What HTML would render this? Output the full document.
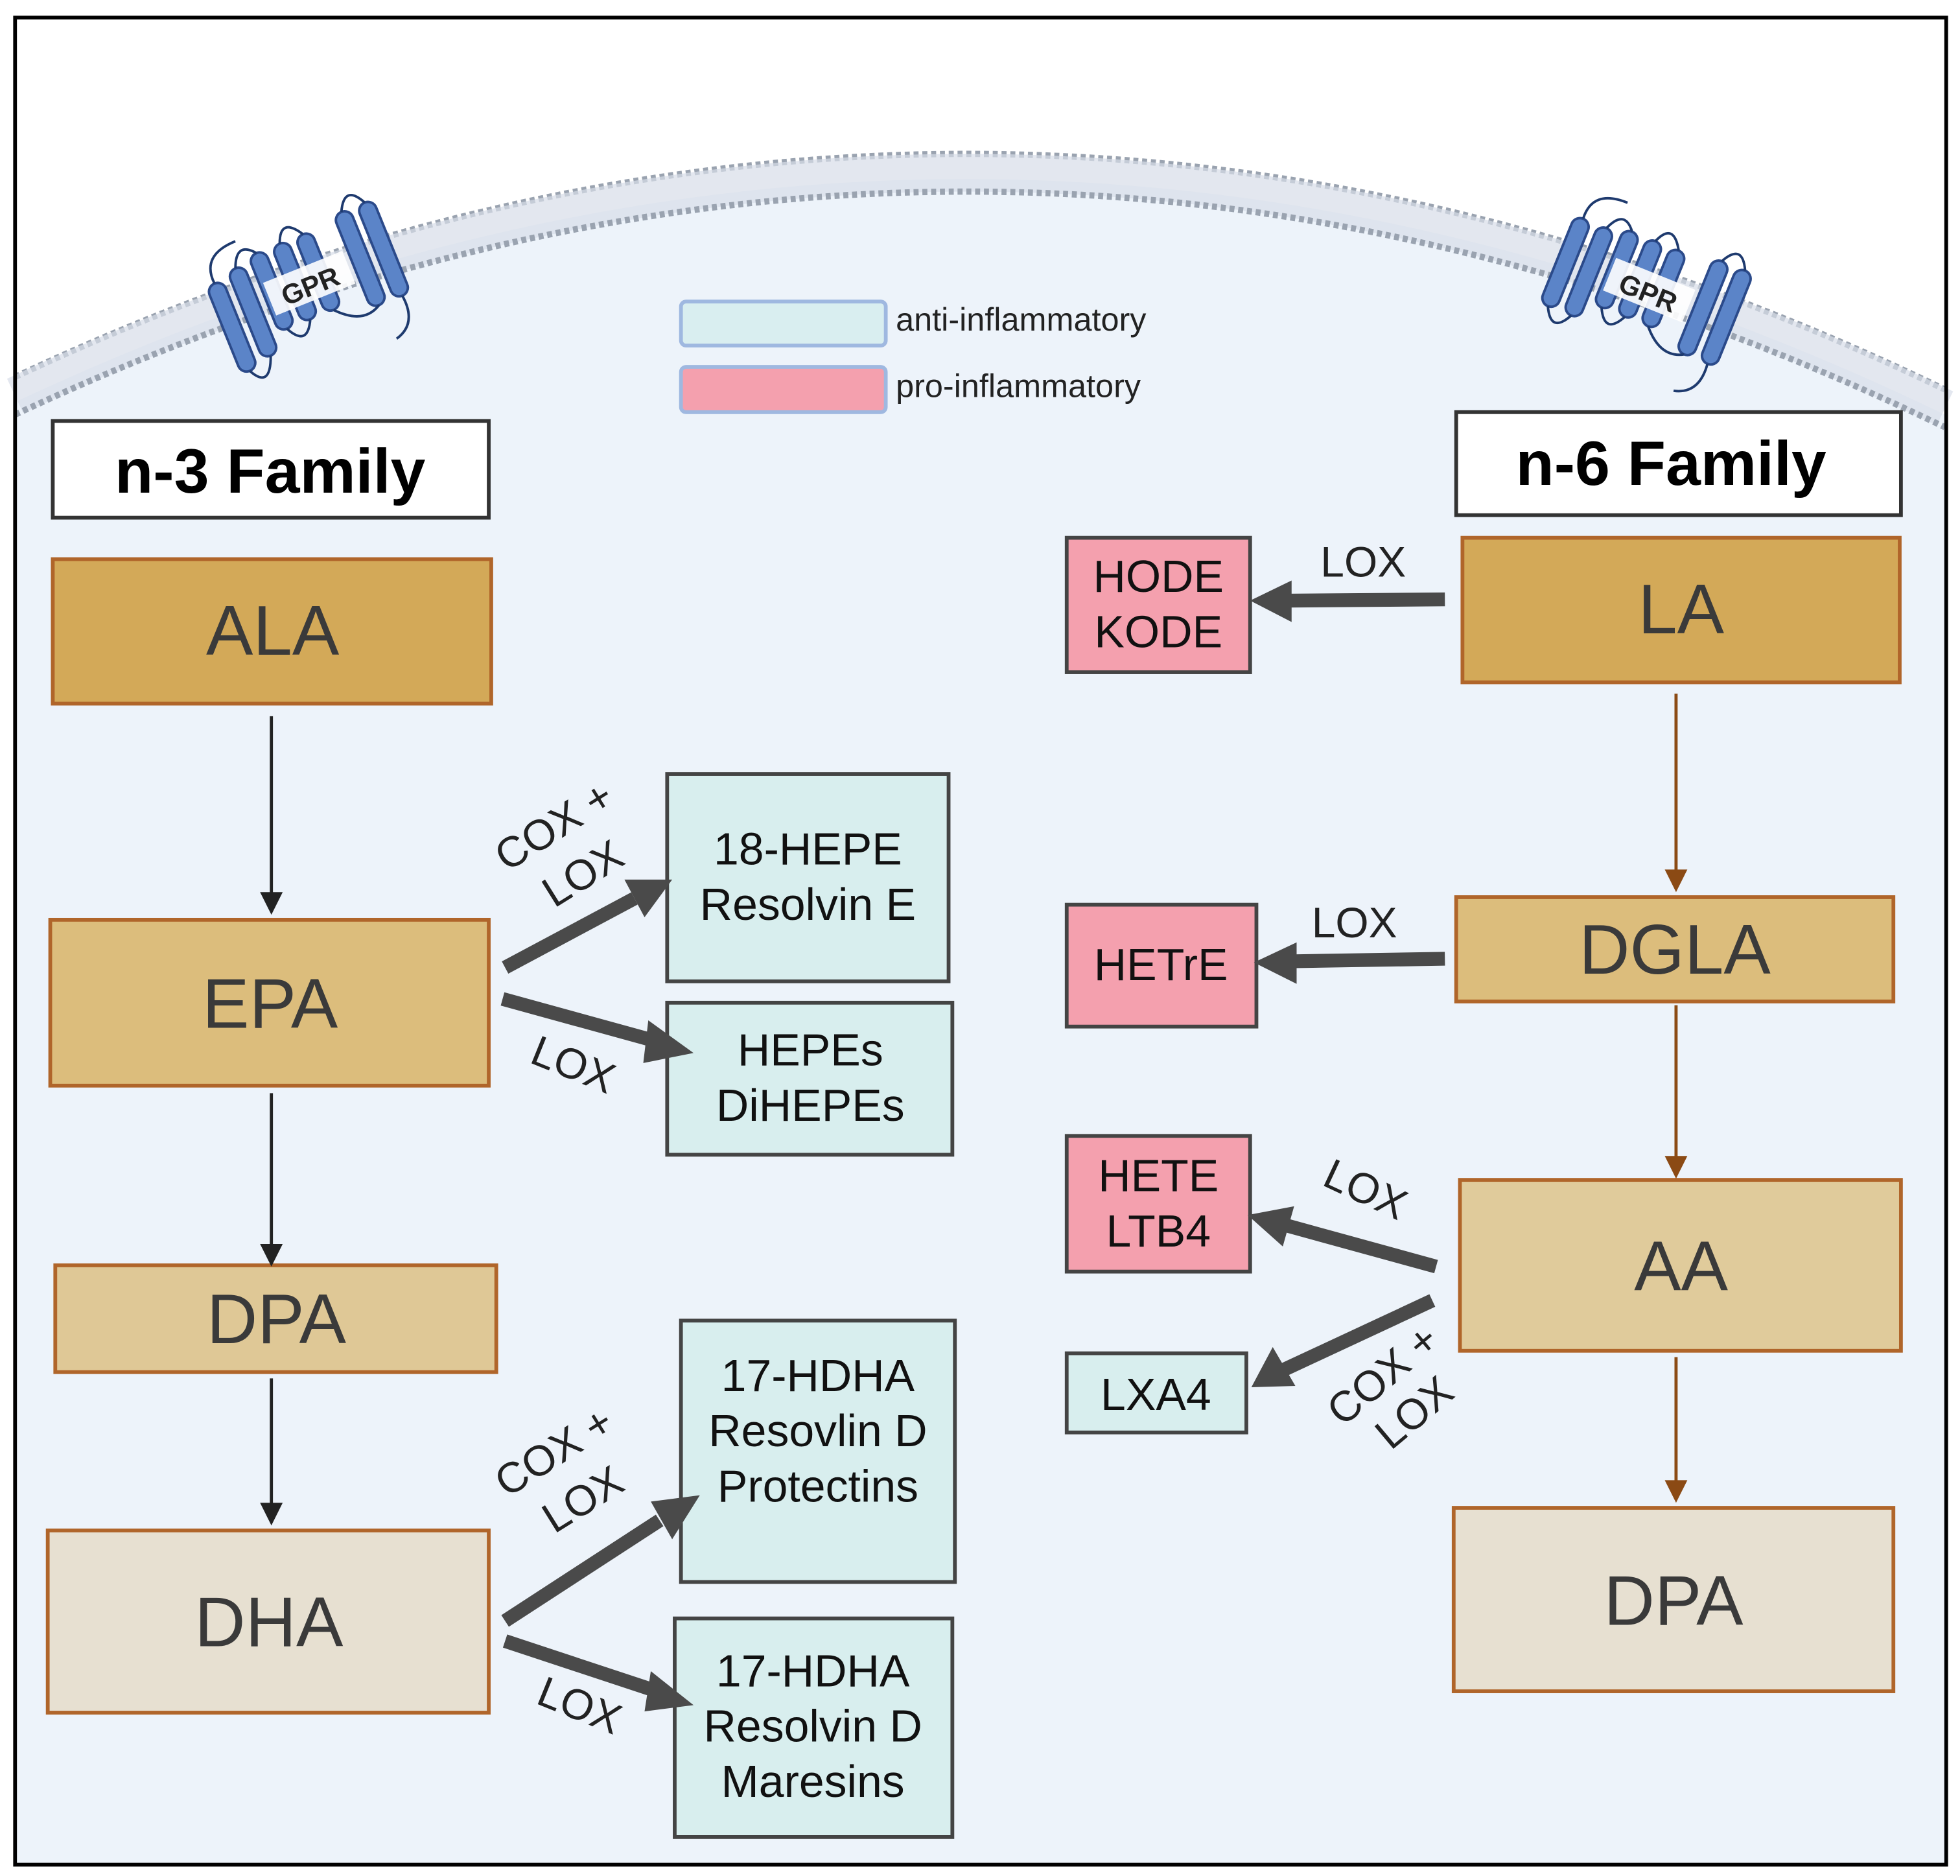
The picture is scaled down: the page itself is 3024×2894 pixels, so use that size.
<!DOCTYPE html>
<html><head><meta charset="utf-8"><style>
html,body{margin:0;padding:0;background:#fff}
svg{display:block}
text{font-family:"Liberation Sans",sans-serif}
</style></head><body>
<svg width="3024" height="2894" viewBox="0 0 1560 1493" preserveAspectRatio="none" xmlns="http://www.w3.org/2000/svg">
<defs>
<marker id="ab" markerWidth="8" markerHeight="8" refX="7" refY="4" orient="auto" markerUnits="userSpaceOnUse"><path d="M0,0 L0,0" /></marker>
</defs>
<rect x="0" y="0" width="1560" height="1493" fill="#fff"/>
<!-- cell interior -->
<path d="M12,320 Q780,-40 1548,330 L1548,1484 L12,1484 Z" fill="#edf3fa"/>
<!-- membrane -->
<path d="M12,300 Q780,-60 1548,310" fill="none" stroke="#9aa3b0" stroke-width="5" stroke-dasharray="4 3"/>
<path d="M12,300 Q780,-60 1548,310" fill="none" stroke="#d7dde8" stroke-width="30" transform="translate(0,15)" opacity="0.7"/>
<path d="M12,330 Q780,-30 1548,340" fill="none" stroke="#9aa3b0" stroke-width="5" stroke-dasharray="4 3"/>
<!-- outer border -->
<rect x="12" y="14" width="1537" height="1470" fill="none" stroke="#000" stroke-width="3"/>

<!-- GPR left -->
<g transform="translate(245,228) rotate(-22)">
  <g fill="#5b84c8" stroke="#2b4a8a" stroke-width="2">
    <rect x="-75" y="-30" width="14" height="75" rx="7"/>
    <rect x="-55" y="-35" width="14" height="75" rx="7"/>
    <rect x="-35" y="-40" width="14" height="65" rx="7"/>
    <rect x="-15" y="-40" width="14" height="65" rx="7"/>
    <rect x="5" y="-40" width="14" height="65" rx="7"/>
    <rect x="40" y="-45" width="14" height="80" rx="7"/>
    <rect x="60" y="-45" width="14" height="80" rx="7"/>
  </g>
  <g fill="none" stroke="#1e3a6e" stroke-width="2">
    <path d="M-68,-30 Q-70,-55 -40,-55"/><path d="M-48,-35 Q-40,-55 -28,-40"/><path d="M-8,-40 Q0,-60 12,-40"/>
    <path d="M47,-45 Q57,-65 67,-45"/><path d="M-68,45 Q-58,65 -48,40"/><path d="M-28,25 Q-18,45 -8,25"/>
    <path d="M12,25 Q30,45 47,35"/><path d="M67,35 Q70,60 50,65"/>
  </g>
  <rect x="-32" y="-16" width="68" height="28" fill="#fff" opacity="0.9"/>
  <text x="2" y="8" text-anchor="middle" font-size="22" font-weight="bold" fill="#222">GPR</text>
</g>
<!-- GPR right -->
<g transform="translate(1310,232) rotate(22)">
  <g fill="#5b84c8" stroke="#2b4a8a" stroke-width="2">
    <rect x="-75" y="-35" width="14" height="75" rx="7"/>
    <rect x="-55" y="-35" width="14" height="75" rx="7"/>
    <rect x="-35" y="-40" width="14" height="65" rx="7"/>
    <rect x="-15" y="-40" width="14" height="65" rx="7"/>
    <rect x="5" y="-40" width="14" height="65" rx="7"/>
    <rect x="40" y="-45" width="14" height="80" rx="7"/>
    <rect x="60" y="-45" width="14" height="80" rx="7"/>
  </g>
  <g fill="none" stroke="#1e3a6e" stroke-width="2">
    <path d="M-68,-35 Q-70,-60 -40,-60"/><path d="M-48,-35 Q-40,-55 -28,-40"/><path d="M-8,-40 Q0,-60 12,-40"/>
    <path d="M47,-45 Q57,-65 67,-45"/><path d="M-68,40 Q-58,60 -48,40"/><path d="M-28,25 Q-18,45 -8,25"/>
    <path d="M12,25 Q30,45 47,35"/><path d="M67,35 Q70,60 50,65"/>
  </g>
  <rect x="-32" y="-16" width="68" height="28" fill="#fff" opacity="0.9"/>
  <text x="2" y="8" text-anchor="middle" font-size="22" font-weight="bold" fill="#222">GPR</text>
</g>

<!-- legend -->
<rect x="542" y="240" width="163" height="35" rx="4" fill="#d9eef0" stroke="#9fb8e0" stroke-width="3"/>
<rect x="542" y="292" width="163" height="36" rx="4" fill="#f4a0ae" stroke="#9fb8e0" stroke-width="3"/>
<text x="713" y="263" font-size="26" fill="#222">anti-inflammatory</text>
<text x="713" y="316" font-size="26" fill="#222">pro-inflammatory</text>

<!-- family labels -->
<rect x="42" y="335" width="347" height="77" fill="#fff" stroke="#333" stroke-width="3"/>
<text x="215" y="392" text-anchor="middle" font-size="50" font-weight="bold" fill="#000">n-3 Family</text>
<rect x="1159" y="328" width="354" height="82" fill="#fff" stroke="#333" stroke-width="3"/>
<text x="1330" y="386" text-anchor="middle" font-size="50" font-weight="bold" fill="#000">n-6 Family</text>

<!-- n-3 main boxes -->
<g stroke="#b0652a" stroke-width="3" font-size="56" fill="#3a3a3a">
<rect x="42" y="445" width="349" height="115" fill="#d3a958"/>
<rect x="40" y="732" width="349" height="132" fill="#dcbd7c"/>
<rect x="44" y="1007" width="351" height="85" fill="#dfc896"/>
<rect x="38" y="1218" width="351" height="145" fill="#e7e0d1"/>
<rect x="1164" y="428" width="348" height="115" fill="#d3a958"/>
<rect x="1159" y="714" width="348" height="83" fill="#dcbd7c"/>
<rect x="1162" y="939" width="351" height="136" fill="#e0cb9b"/>
<rect x="1157" y="1200" width="350" height="146" fill="#e7e0d1"/>
</g>
<g font-size="56" fill="#3a3a3a" text-anchor="middle">
<text x="217" y="521">ALA</text>
<text x="215" y="818">EPA</text>
<text x="220" y="1069">DPA</text>
<text x="214" y="1310">DHA</text>
<text x="1338" y="504">LA</text>
<text x="1333" y="775">DGLA</text>
<text x="1338" y="1027">AA</text>
<text x="1332" y="1293">DPA</text>
</g>

<!-- product boxes -->
<g stroke="#444" stroke-width="3">
<rect x="531" y="616" width="224" height="165" fill="#d8eeee"/>
<rect x="531" y="798" width="227" height="121" fill="#d8eeee"/>
<rect x="542" y="1051" width="218" height="208" fill="#d8eeee"/>
<rect x="537" y="1288" width="221" height="174" fill="#d8eeee"/>
<rect x="849" y="428" width="146" height="107" fill="#f4a0ae"/>
<rect x="849" y="720" width="151" height="97" fill="#f4a0ae"/>
<rect x="849" y="904" width="146" height="108" fill="#f4a0ae"/>
<rect x="849" y="1077" width="143" height="63" fill="#d8eeee"/>
</g>
<g font-size="36" fill="#111" text-anchor="middle">
<text x="643" y="688">18-HEPE</text><text x="643" y="732">Resolvin E</text>
<text x="645" y="848">HEPEs</text><text x="645" y="892">DiHEPEs</text>
<text x="651" y="1107">17-HDHA</text><text x="651" y="1151">Resovlin D</text><text x="651" y="1195">Protectins</text>
<text x="647" y="1342">17-HDHA</text><text x="647" y="1386">Resolvin D</text><text x="647" y="1430">Maresins</text>
<text x="922" y="471">HODE</text><text x="922" y="515">KODE</text>
<text x="924" y="780">HETrE</text>
<text x="922" y="948">HETE</text><text x="922" y="992">LTB4</text>
<text x="920" y="1122">LXA4</text>
</g>

<!-- thin arrows -->
<g stroke="#222" stroke-width="2.5">
<line x1="216" y1="570" x2="216" y2="712"/>
<line x1="216" y1="870" x2="216" y2="992"/>
<line x1="216" y1="1097" x2="216" y2="1198"/>
</g>
<g fill="#222">
<path d="M207,710 L225,710 L216,728 Z"/>
<path d="M207,990 L225,990 L216,1008 Z"/>
<path d="M207,1196 L225,1196 L216,1214 Z"/>
</g>
<g stroke="#8b4a14" stroke-width="2.5">
<line x1="1334" y1="552" x2="1334" y2="694"/>
<line x1="1334" y1="800" x2="1334" y2="922"/>
<line x1="1334" y1="1080" x2="1334" y2="1180"/>
</g>
<g fill="#8b4a14">
<path d="M1325,692 L1343,692 L1334,710 Z"/>
<path d="M1325,920 L1343,920 L1334,938 Z"/>
<path d="M1325,1178 L1343,1178 L1334,1196 Z"/>
</g>

<!-- thick arrows -->
<g stroke="#4a4a4a" stroke-width="11" stroke-linecap="butt">
<line x1="402" y1="770" x2="505" y2="715"/>
<line x1="400" y1="795" x2="520" y2="828"/>
<line x1="402" y1="1290" x2="525" y2="1210"/>
<line x1="402" y1="1306" x2="520" y2="1345"/>
<line x1="1150" y1="477" x2="1025" y2="478"/>
<line x1="1150" y1="763" x2="1030" y2="765"/>
<line x1="1143" y1="1008" x2="1023" y2="975"/>
<line x1="1140" y1="1035" x2="1022" y2="1090"/>
</g>
<g fill="#4a4a4a">
<path d="M535,700 L497,700 L513,730 Z"/>
<path d="M552,838 L516,812 L512,846 Z"/>
<path d="M557,1190 L518,1195 L535,1225 Z"/>
<path d="M552,1357 L518,1330 L513,1362 Z"/>
<path d="M995,478 L1028,462 L1028,495 Z"/>
<path d="M998,766 L1032,750 L1032,783 Z"/>
<path d="M993,967 L1030,960 L1021,992 Z"/>
<path d="M996,1104 L1013,1072 L1031,1103 Z"/>
</g>

<!-- enzyme labels -->
<g font-size="34" fill="#222" text-anchor="middle">
<text transform="translate(447,667) rotate(-32)">COX +</text>
<text transform="translate(470,705) rotate(-32)">LOX</text>
<text transform="translate(452,858) rotate(22)">LOX</text>
<text transform="translate(447,1165) rotate(-32)">COX +</text>
<text transform="translate(470,1203) rotate(-32)">LOX</text>
<text transform="translate(457,1368) rotate(22)">LOX</text>
<text x="1085" y="459">LOX</text>
<text x="1078" y="746">LOX</text>
<text transform="translate(1082,957) rotate(25)">LOX</text>
<text transform="translate(1108,1103) rotate(-40)">COX +</text>
<text transform="translate(1133,1133) rotate(-40)">LOX</text>
</g>
</svg>
</body></html>
